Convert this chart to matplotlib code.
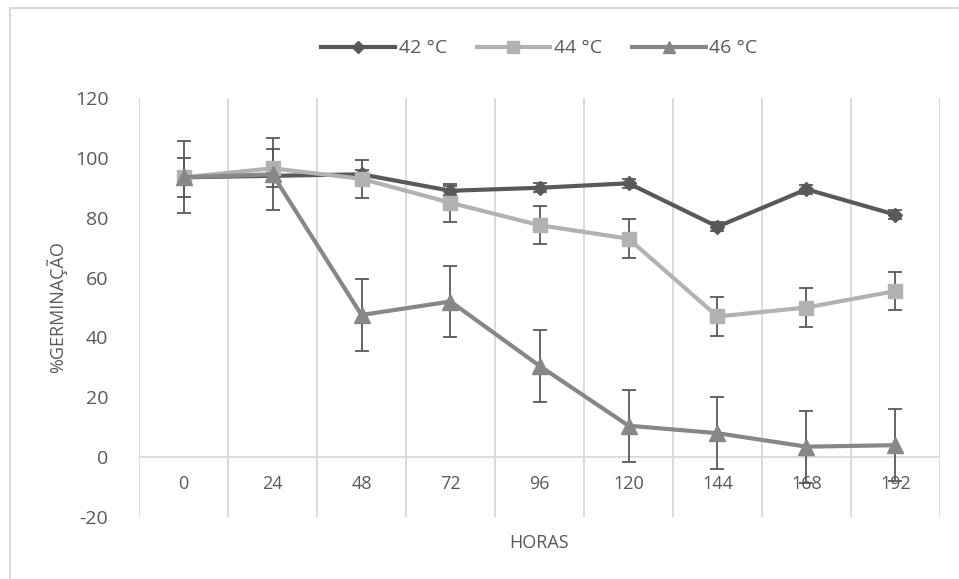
import matplotlib.pyplot as plt
from matplotlib.patches import Rectangle
from matplotlib.lines import Line2D

plt.rcParams['font.family'] = ['Open Sans', 'DejaVu Sans']
plt.rcParams['axes.unicode_minus'] = False

horas = ['0', '24', '48', '72', '96', '120', '144', '168', '192']
t42 = [93.5, 94, 94.5, 89, 90, 91.5, 77, 89.5, 81]
t44 = [93.5, 96.5, 93, 85, 77.5, 73, 47, 50, 55.5]
t46 = [93.5, 94.5, 47.5, 52, 30.5, 10.5, 8, 3.5, 4]
err42 = [1.5, 1.5, 1.5, 1.5, 1.5, 1.5, 1.5, 1.5, 1.5]
err44 = [6.5, 6.3, 6.3, 6.3, 6.4, 6.5, 6.5, 6.4, 6.4]
err46 = [12, 12, 12, 12, 12, 12, 12, 12, 12]

txt = '#595959'
grid = '#d9d9d9'

fig = plt.figure(figsize=(9.59, 5.79), dpi=100)
fig.patches.append(Rectangle((10 / 959, -0.05), 1.0, 1 - 8 / 579 + 0.05,
                             transform=fig.transFigure, fill=False,
                             edgecolor=grid, linewidth=1.5))
ax = fig.add_axes([139 / 959, 1 - 517 / 579, (940 - 139) / 959, (517 - 98) / 579])

x = list(range(len(horas)))
series = [
    (t42, err42, '#595959', 'D', 7, '42 °C'),
    (t44, err44, '#b2b2b2', 's', 10, '44 °C'),
    (t46, err46, '#878787', '^', 11, '46 °C'),
]
handles = []
for y, e, c, m, ms, lab in series:
    ax.errorbar(x, y, yerr=e, color=c, marker=m, markersize=ms, linewidth=3,
                ecolor='#595959', elinewidth=1.3, capsize=5, capthick=1.3,
                zorder=3)
    handles.append(Line2D([], [], color=c, marker=m, markersize=ms * 0.85,
                          linewidth=3, label=lab))

ax.set_xlim(-0.5, len(horas) - 0.5)
ax.set_ylim(-20, 120)
for b in range(len(horas) + 1):
    ax.axvline(b - 0.5, color=grid, linewidth=1.3, zorder=0)
ax.axhline(0, color=grid, linewidth=1.3, zorder=0)
for s in ax.spines.values():
    s.set_visible(False)

ax.set_yticks(range(-20, 121, 20))
ax.tick_params(axis='y', length=0, labelsize=14, labelcolor=txt, pad=22)
ax.set_xticks([])
for i, h in enumerate(horas):
    ax.text(i, -9, h, ha='center', va='center', fontsize=13, color=txt)

ax.set_ylabel('%GERMINAÇÃO', fontsize=13, color=txt)
ax.yaxis.set_label_coords(-0.09, 0.5)
ax.set_xlabel('HORAS', fontsize=13, color=txt)
ax.xaxis.set_label_coords(0.5, -0.04)

ax.legend(handles=handles, loc='lower center', bbox_to_anchor=(0.5, 1.055), ncol=3,
          frameon=False, fontsize=14, labelcolor=txt, handlelength=3.8,
          handletextpad=0.2, columnspacing=1.5)

fig.savefig('out.png', dpi=100)
